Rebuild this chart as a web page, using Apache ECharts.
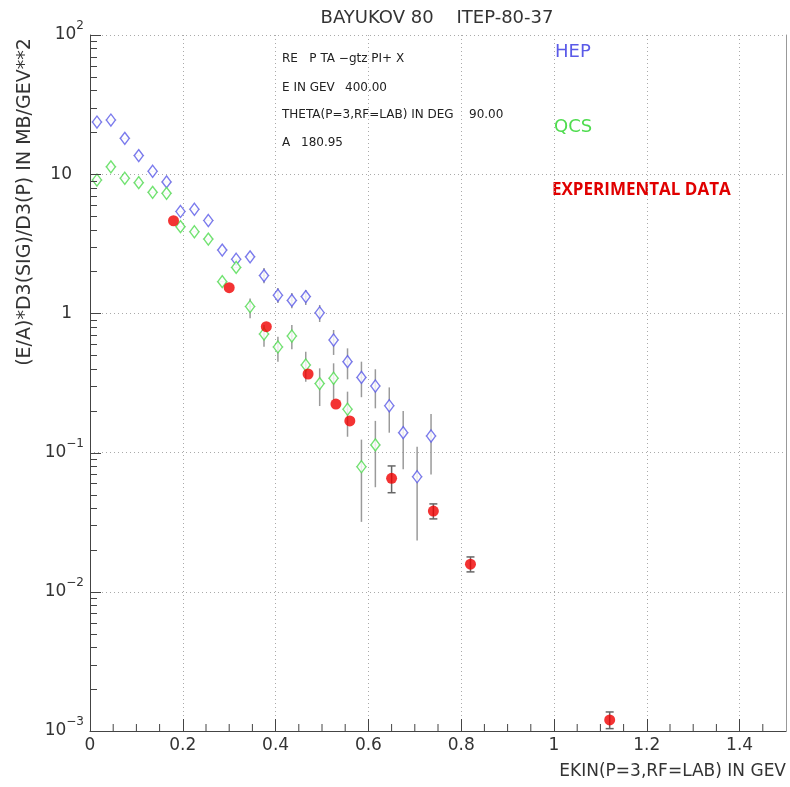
<!DOCTYPE html>
<html>
<head>
<meta charset="utf-8">
<script src="https://cdn.jsdelivr.net/npm/echarts@6/dist/echarts.min.js"></script>
<style>
  html, body { margin: 0; padding: 0; background: #fff; }
  #chart { width: 790px; height: 787px; }
</style>
</head>
<body>
<div id="chart"></div>
<script>
// HEP model (blue diamonds)
const hepX = [0.015, 0.045, 0.075, 0.105, 0.135, 0.165, 0.195, 0.225, 0.255, 0.285, 0.315, 0.345, 0.375,
              0.405, 0.435, 0.465, 0.495, 0.525, 0.555, 0.585, 0.615, 0.645, 0.675, 0.705, 0.735];
const hepY = [23.7, 24.5, 18.1, 13.6, 10.5, 8.8, 5.4, 5.6, 4.65, 2.85, 2.45, 2.55, 1.87,
              1.35, 1.24, 1.32, 1.01, 0.644, 0.450, 0.347, 0.301, 0.217, 0.139, 0.0671, 0.1316];
const hepLo = [null, null, null, null, null, null, null, null, null, null, null, null, 1.65,
               1.19, 1.09, 1.15, 0.867, 0.503, 0.336, 0.250, 0.208, 0.139, 0.0759, 0.0234, 0.0696];
const hepHi = [null, null, null, null, null, null, null, null, null, null, null, null, 2.12,
               1.52, 1.40, 1.47, 1.15, 0.760, 0.561, 0.450, 0.397, 0.294, 0.199, 0.110, 0.189];

// QCS model (green diamonds)
const qcsX = [0.015, 0.045, 0.075, 0.105, 0.135, 0.165, 0.195, 0.225, 0.255, 0.285, 0.315, 0.345, 0.375,
              0.405, 0.435, 0.465, 0.495, 0.525, 0.555, 0.585, 0.615];
const qcsY = [9.08, 11.3, 9.35, 8.69, 7.41, 7.29, 4.20, 3.86, 3.42, 1.69, 2.14, 1.12, 0.711,
              0.574, 0.688, 0.426, 0.313, 0.342, 0.205, 0.0792, 0.1135];
const qcsLo = [null, null, null, null, null, null, null, null, null, null, null, 0.922, 0.577,
               0.450, 0.552, 0.323, 0.216, 0.239, 0.130, 0.0318, 0.0564];
const qcsHi = [null, null, null, null, null, null, null, null, null, null, null, 1.28, 0.826,
               0.680, 0.826, 0.531, 0.403, 0.438, 0.274, 0.124, 0.169];

// Experimental data (red points)
const expX  = [0.18, 0.30, 0.38, 0.47, 0.53, 0.56, 0.65, 0.74, 0.82, 1.12];
const expY  = [4.63, 1.53, 0.803, 0.367, 0.223, 0.169, 0.0654, 0.0380, 0.0158, 0.0012];
const expLo = [null, null, null, null, null, null, 0.0515, 0.0334, 0.0139, 0.00104];
const expHi = [null, null, null, null, null, null, 0.0802, 0.0428, 0.0178, 0.00137];

// Axis ticks
const xTickLabels = ['0', '0.2', '0.4', '0.6', '0.8', '1', '1.2', '1.4'];
const yTickExponents = [-3, -2, -1, 0, 1, 2];
const xMinorStep = 0.05;
const yMinorMantissas = [2, 3, 4, 5, 6, 7, 8, 9];

const X_MIN = 0, X_MAX = 1.5, Y_MIN = 0.001, Y_MAX = 100;
const FONT = 'DejaVu Sans';
const AXIS_COLOR = '#444';

// x-axis minor tick positions
const xMinorTicks = [];
for (let k = 1; k * xMinorStep < X_MAX - 1e-9; k++) {
  if (k % 4 !== 0) xMinorTicks.push([+(k * xMinorStep).toFixed(3), Y_MIN]);
}
// y-axis tick values with their lengths (decades long, 2..9 short)
const yTicks = [];
yTickExponents.forEach(e => {
  yTicks.push([+Math.pow(10, e).toPrecision(3), 11]);
  if (e < 2) yMinorMantissas.forEach(m => yTicks.push([+(m * Math.pow(10, e)).toPrecision(3), 7]));
});

function zip(xs, ys) { return xs.map((x, i) => [x, ys[i]]); }
function bars(xs, ys, lo, hi) {
  const out = [];
  xs.forEach((x, i) => { if (lo[i] != null) out.push([x, lo[i], hi[i], ys[i]]); });
  return out;
}

function vBarRenderer(color, cap) {
  return function (params, api) {
    const x = api.value(0);
    const p1 = api.coord([x, api.value(1)]);
    const p2 = api.coord([x, api.value(2)]);
    const children = [{
      type: 'line', shape: { x1: p1[0], y1: p1[1], x2: p2[0], y2: p2[1] },
      style: { stroke: color, lineWidth: 1.5 }
    }];
    if (cap) {
      [p1, p2].forEach(p => children.push({
        type: 'line', shape: { x1: p[0] - cap, y1: p[1], x2: p[0] + cap, y2: p[1] },
        style: { stroke: color, lineWidth: 1.5 }
      }));
    }
    return { type: 'group', children };
  };
}

function hBarRenderer(halfWidth) {
  return function (params, api) {
    const x = api.value(0), y = api.value(1);
    const p1 = api.coord([x - halfWidth, y]);
    const p2 = api.coord([x + halfWidth, y]);
    return {
      type: 'line', shape: { x1: p1[0], y1: p1[1], x2: p2[0], y2: p2[1] },
      style: { stroke: '#cfcfcf', lineWidth: 1 }
    };
  };
}

function xTickRenderer(params, api) {
  const p = api.coord([api.value(0), api.value(1)]);
  return {
    type: 'line', shape: { x1: p[0], y1: p[1], x2: p[0], y2: p[1] - 7 },
    style: { stroke: AXIS_COLOR, lineWidth: 1 }
  };
}

function yLabel(v) {
  const e = Math.round(Math.log10(v));
  if (yTickExponents.indexOf(e) < 0) return '';
  if (e === 0) return '{m|1}{p|}';
  if (e === 1) return '{m|10}{p|}';
  return '{m|10}{s|' + (e < 0 ? '\u2212' : '') + Math.abs(e) + '}';
}

const textGraphics = [
  { type: 'text', x: 437, y: 18, style: { text: 'BAYUKOV 80    ITEP-80-37', font: '18px "DejaVu Sans"', fill: '#333', align: 'center', verticalAlign: 'middle' } },
  { type: 'text', x: 282, y: 59, style: { text: 'RE   P TA \u2212gtz PI+ X', font: '12px "DejaVu Sans"', fill: '#222', verticalAlign: 'middle' } },
  { type: 'text', x: 282, y: 87.5, style: { text: 'E IN GEV', font: '12px "DejaVu Sans"', fill: '#222', verticalAlign: 'middle' } },
  { type: 'text', x: 345, y: 87.5, style: { text: '400.00', font: '12px "DejaVu Sans"', fill: '#222', verticalAlign: 'middle' } },
  { type: 'text', x: 282, y: 115, style: { text: 'THETA(P=3,RF=LAB) IN DEG', font: '12px "DejaVu Sans"', fill: '#222', verticalAlign: 'middle' } },
  { type: 'text', x: 469, y: 115, style: { text: '90.00', font: '12px "DejaVu Sans"', fill: '#222', verticalAlign: 'middle' } },
  { type: 'text', x: 282, y: 143, style: { text: 'A', font: '12px "DejaVu Sans"', fill: '#222', verticalAlign: 'middle' } },
  { type: 'text', x: 301, y: 143, style: { text: '180.95', font: '12px "DejaVu Sans"', fill: '#222', verticalAlign: 'middle' } },
  { type: 'text', x: 555, y: 52, style: { text: 'HEP', font: '18px "DejaVu Sans"', fill: '#5a5ae8', verticalAlign: 'middle' } },
  { type: 'text', x: 554, y: 127, style: { text: 'QCS', font: '18px "DejaVu Sans"', fill: '#4fdc4f', verticalAlign: 'middle' } },
  { type: 'text', x: 552, y: 190, style: { text: 'EXPERIMENTAL DATA', font: 'bold 17px "Open Sans"', fill: '#e00000', verticalAlign: 'middle' } },
  { type: 'text', x: 786, y: 772, style: { text: 'EKIN(P=3,RF=LAB) IN GEV', font: '17px "DejaVu Sans"', fill: '#333', align: 'right', verticalAlign: 'middle' } },
  { type: 'text', x: 25, y: 202, rotation: Math.PI / 2, style: { text: '(E/A)*D3(SIG)/D3(P) IN MB/GEV**2', font: '19px "DejaVu Sans"', fill: '#333', align: 'center', verticalAlign: 'middle' } }
];

const chart = echarts.init(document.getElementById('chart'), null, { renderer: 'canvas' });

const option = {
  animation: false,
  backgroundColor: '#ffffff',
  grid: { left: 90, top: 35, width: 696, height: 696 },
  xAxis: [{
    type: 'value', min: X_MIN, max: X_MAX, interval: 0.2,
    axisLine: { show: true, onZero: false, lineStyle: { color: AXIS_COLOR, width: 1 } },
    axisTick: { show: true, inside: true, length: 12, lineStyle: { color: AXIS_COLOR } },
    axisLabel: {
      show: true, margin: 6, fontSize: 17, fontFamily: FONT, color: '#333',
      showMaxLabel: false,
      formatter: v => {
        const i = Math.round(v / 0.2);
        return Math.abs(v - i * 0.2) < 1e-6 && i < xTickLabels.length ? xTickLabels[i] : '';
      }
    },
    splitLine: { show: true, lineStyle: { color: '#aaa', type: [1, 3], width: 1 } }
  }],
  yAxis: [{
    type: 'log', logBase: 10, min: Y_MIN, max: Y_MAX,
    axisLine: { show: true, onZero: false, lineStyle: { color: AXIS_COLOR, width: 1 } },
    axisTick: { show: false },
    axisLabel: {
      show: true, margin: 6, formatter: yLabel,
      rich: {
        m: { fontSize: 17, fontFamily: FONT, color: '#333', lineHeight: 30 },
        s: { fontSize: 12, fontFamily: FONT, color: '#333', lineHeight: 12, verticalAlign: 'top' },
        p: { width: 12 }
      }
    },
    splitLine: { show: true, lineStyle: { color: '#aaa', type: [1, 3], width: 1 } }
  }, {
    type: 'log', logBase: 10, min: Y_MIN, max: Y_MAX, position: 'right',
    axisLine: { show: true, onZero: false, lineStyle: { color: '#999', width: 1 } },
    axisTick: { show: false }, axisLabel: { show: false }, splitLine: { show: false }
  }],
  series: [
    { name: 'x ticks', type: 'custom', silent: true, clip: false, z: 10, data: xMinorTicks, renderItem: xTickRenderer },
    { name: 'HEP x-bin', type: 'custom', silent: true, data: zip(hepX, hepY), renderItem: hBarRenderer(0.012) },
    { name: 'QCS x-bin', type: 'custom', silent: true, data: zip(qcsX, qcsY), renderItem: hBarRenderer(0.012) },
    { name: 'HEP errors', type: 'custom', silent: true, data: bars(hepX, hepY, hepLo, hepHi), renderItem: vBarRenderer('#9a9a9a', 0) },
    { name: 'QCS errors', type: 'custom', silent: true, data: bars(qcsX, qcsY, qcsLo, qcsHi), renderItem: vBarRenderer('#9a9a9a', 0) },
    { name: 'EXP errors', type: 'custom', silent: true, data: bars(expX, expY, expLo, expHi), renderItem: vBarRenderer('#666', 4) },
    {
      name: 'HEP', type: 'scatter', data: zip(hepX, hepY), symbol: 'diamond', symbolSize: [9, 12],
      itemStyle: { color: '#ffffff', borderColor: '#5a5ae8', borderWidth: 1.4 }, z: 5
    },
    {
      name: 'QCS', type: 'scatter', data: zip(qcsX, qcsY), symbol: 'diamond', symbolSize: [9, 12],
      itemStyle: { color: '#ffffff', borderColor: '#4fdc4f', borderWidth: 1.4 }, z: 5
    },
    {
      name: 'EXPERIMENTAL DATA', type: 'scatter', data: zip(expX, expY), symbol: 'circle', symbolSize: 11,
      itemStyle: { color: '#f00000' }, z: 6
    }
  ],
  graphic: textGraphics
};

chart.setOption(option);

// Left-axis ticks: positions come from the y axis scale via convertToPixel,
// drawn as graphic lines on top of everything else.
const yTickGraphics = [];
yTicks.forEach(([v, len]) => {
  const p = chart.convertToPixel({ gridIndex: 0 }, [X_MIN, v]);
  if (!p || !isFinite(p[0]) || !isFinite(p[1])) return;
  const y = Math.round(p[1]) + 0.5;
  const x = Math.round(p[0]);
  yTickGraphics.push({
    type: 'line', z: 100, silent: true,
    shape: { x1: x, y1: y, x2: x + len, y2: y },
    style: { stroke: AXIS_COLOR, lineWidth: 1 }
  });
});
chart.setOption({ graphic: textGraphics.concat(yTickGraphics) });
</script>
</body>
</html>
